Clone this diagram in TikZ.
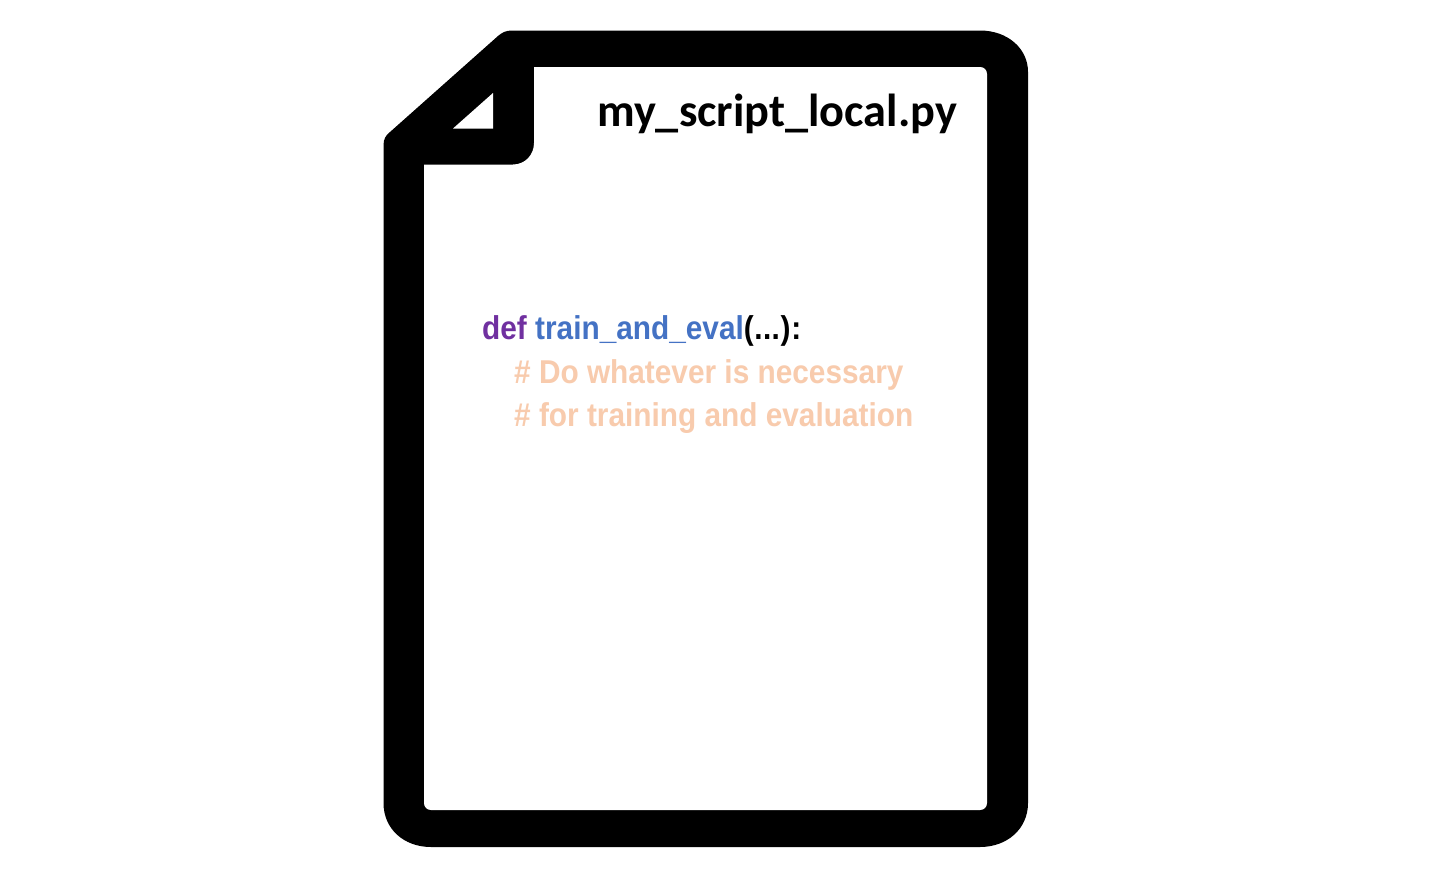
\documentclass[tikz,border=0pt]{standalone}
\usepackage{fontspec}
\setmainfont{Liberation Sans}
\newfontfamily\titlefont{Carlito}[Scale=1]
\newfontfamily\codefont{Liberation Sans}[FakeStretch=0.903]
\definecolor{defpurple}{HTML}{7030A0}
\definecolor{fnblue}{HTML}{4472C4}
\definecolor{commentpeach}{HTML}{F8CBAD}
\tikzset{
  titletext/.style={inner sep=0pt,anchor=base west,font=\titlefont\fontsize{46.3pt}{50pt}\selectfont\bfseries},
  codetext/.style={inner sep=0pt,anchor=base west,font=\codefont\fontsize{33pt}{36pt}\selectfont\bfseries}
}
\begin{document}
\begin{tikzpicture}[x=1pt,y=-1pt]
\useasboundingbox (0,0) rectangle (1429,870);
\fill[white] (0,0) rectangle (1429,870);
% page outline
\fill[black] (512,30.5) -- (980,30.5)
  .. controls (1007,30.5) and (1028,48) .. (1028,72)
  -- (1028,803)
  .. controls (1028,829) and (1007,847) .. (980,847)
  -- (431,847)
  .. controls (404,847) and (383.5,829) .. (383.5,803)
  -- (383.5,145)
  .. controls (383.5,139) and (386,135) .. (390,132)
  -- (498,36)
  .. controls (502,32.5) and (506,30.5) .. (512,30.5) -- cycle;
% page interior
\fill[white] (534,67) -- (980,67)
  .. controls (984,67) and (987,70) .. (987,74)
  -- (987,803)
  .. controls (987,807) and (984,810) .. (980,810)
  -- (431,810)
  .. controls (427,810) and (424,807) .. (424,803)
  -- (424,164.5) -- (513,164.5)
  .. controls (525,164.5) and (534,155) .. (534,143) -- cycle;
% fold
\fill[white] (493,93) -- (493,128.5) -- (453,128.5) -- cycle;
% texts
\node[titletext] (title) at (597,126) {my\_script\_local.py};
\node[codetext] (line1) at (482,339.5) {\textcolor{defpurple}{def} \textcolor{fnblue}{train\_and\_eval}(\kern0.6pt.\kern0.4pt.\kern0.4pt.\kern0.6pt)\kern0.8pt:};
\node[codetext,text=commentpeach] (line2) at (514,383) {\# Do whatever is necessary};
\node[codetext,text=commentpeach] (line3) at (514,426) {\# for training and evaluation};
\end{tikzpicture}
\end{document}
